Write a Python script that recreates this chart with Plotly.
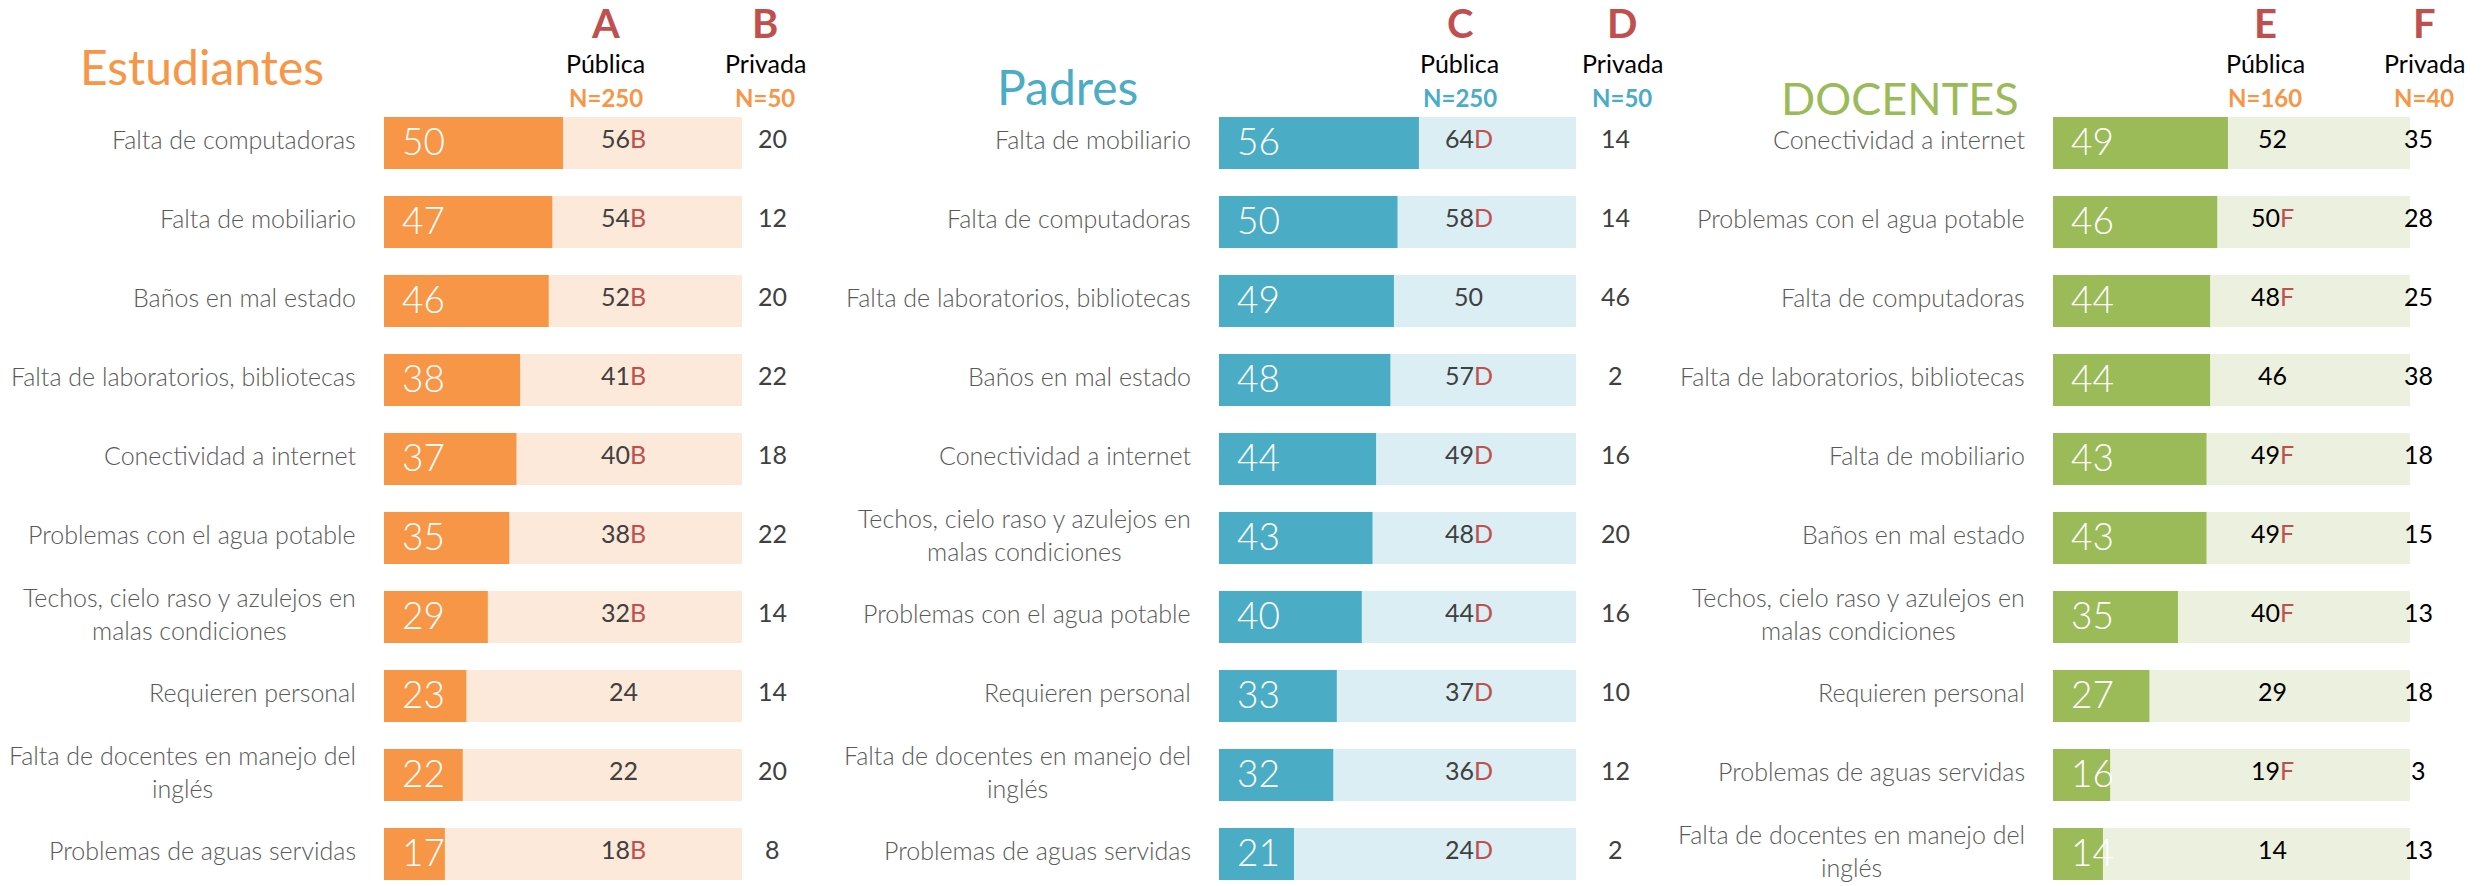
import plotly.graph_objects as go

W, H = 2483, 886

# ---------------- DATA ----------------
est_categories = ["Falta de computadoras", "Falta de mobiliario", "Baños en mal estado",
                  "Falta de laboratorios, bibliotecas", "Conectividad a internet",
                  "Problemas con el agua potable",
                  "Techos, cielo raso y azulejos en<br>malas condiciones",
                  "Requieren personal", "Falta de docentes en manejo del<br>inglés",
                  "Problemas de aguas servidas"]
est_total = [50, 47, 46, 38, 37, 35, 29, 23, 22, 17]
est_publica = [56, 54, 52, 41, 40, 38, 32, 24, 22, 18]
est_sig = ["B", "B", "B", "B", "B", "B", "B", "", "", "B"]
est_privada = [20, 12, 20, 22, 18, 22, 14, 14, 20, 8]

pad_categories = ["Falta de mobiliario", "Falta de computadoras",
                  "Falta de laboratorios, bibliotecas", "Baños en mal estado",
                  "Conectividad a internet",
                  "Techos, cielo raso y azulejos en<br>malas condiciones",
                  "Problemas con el agua potable", "Requieren personal",
                  "Falta de docentes en manejo del<br>inglés", "Problemas de aguas servidas"]
pad_total = [56, 50, 49, 48, 44, 43, 40, 33, 32, 21]
pad_publica = [64, 58, 50, 57, 49, 48, 44, 37, 36, 24]
pad_sig = ["D", "D", "", "D", "D", "D", "D", "D", "D", "D"]
pad_privada = [14, 14, 46, 2, 16, 20, 16, 10, 12, 2]

doc_categories = ["Conectividad a internet", "Problemas con el agua potable",
                  "Falta de computadoras", "Falta de laboratorios, bibliotecas",
                  "Falta de mobiliario", "Baños en mal estado",
                  "Techos, cielo raso y azulejos en<br>malas condiciones",
                  "Requieren personal", "Problemas de aguas servidas",
                  "Falta de docentes en manejo del<br>inglés"]
doc_total = [49, 46, 44, 44, 43, 43, 35, 27, 16, 14]
doc_publica = [52, 50, 48, 46, 49, 49, 40, 29, 19, 14]
doc_sig = ["", "F", "F", "", "F", "F", "F", "", "F", ""]
doc_privada = [35, 28, 25, 38, 18, 15, 13, 18, 3, 13]

titles = ["Estudiantes", "Padres", "DOCENTES"]
group_letters = [("A", "B"), ("C", "D"), ("E", "F")]
group_n = [("N=250", "N=50"), ("N=250", "N=50"), ("N=160", "N=40")]
SCALE_MAX = 100  # full-scale background bar (percent)

# ---------------- STYLE ----------------
RED = "#C0504D"
FONT = "Lato, Roboto, sans-serif"
FONT_LIGHT = "Lato Light, Lato, sans-serif"
panels = [
    dict(cats=est_categories, tot=est_total, pub=est_publica, sig=est_sig, priv=est_privada,
         start=384, ppu=3.58, rmax=120, label_right=358, pubx=67, privx=108.5, hpub=62, hpriv=106.5,
         color="#F79646", light="#FDE9D9", ncolor="#F79646", valcolor="#404040",
         title_x=78, title_y=66, title_size=48, title_color="#F79646"),
    dict(cats=pad_categories, tot=pad_total, pub=pad_publica, sig=pad_sig, priv=pad_privada,
         start=1219, ppu=3.57, rmax=120, label_right=1193, pubx=70, privx=111, hpub=67.5, hpriv=113,
         color="#4BACC6", light="#DAEEF3", ncolor="#4BACC6", valcolor="#404040",
         title_x=995, title_y=86.5, title_size=48, title_color="#4BACC6"),
    dict(cats=doc_categories, tot=doc_total, pub=doc_publica, sig=doc_sig, priv=doc_privada,
         start=2053, ppu=3.57, rmax=120, label_right=2027, pubx=61.6, privx=102.5, hpub=59.5, hpriv=104,
         color="#9BBB59", light="#EBF1DE", ncolor="#F79646", valcolor="#000000",
         title_x=1779, title_y=98, title_size=45, title_color="#9BBB59"),
]

ROW0, PITCH, BARH = 143.0, 79.0, 52.0
y_top = (0 - ROW0) / PITCH
y_bot = (H - ROW0) / PITCH


def py2y(py):
    return (py - ROW0) / PITCH


fig = go.Figure()
annotations = []
layout_axes = {}

for k, p in enumerate(panels):
    xname = "x" if k == 0 else f"x{k+1}"
    axkey = "xaxis" if k == 0 else f"xaxis{k+1}"
    n = len(p["cats"])
    rows = list(range(n))
    d0 = p["start"] / W
    d1 = min(1.0, (p["start"] + p["rmax"] * p["ppu"]) / W)
    rmax = (d1 * W - p["start"]) / p["ppu"]
    layout_axes[axkey] = dict(domain=[d0, d1], range=[0, rmax], visible=False,
                              fixedrange=True, anchor="y")
    fig.add_trace(go.Bar(y=rows, x=[SCALE_MAX] * n, orientation="h", width=BARH / PITCH,
                         marker=dict(color=p["light"], line=dict(width=0)),
                         xaxis=xname, yaxis="y", hoverinfo="skip", showlegend=False))
    fig.add_trace(go.Bar(y=rows, x=p["tot"], orientation="h", width=BARH / PITCH,
                         marker=dict(color=p["color"], line=dict(width=0)),
                         xaxis=xname, yaxis="y", hoverinfo="skip", showlegend=False))
    for i in rows:
        annotations.append(dict(x=0, y=i, xref=xname, yref="y", text=str(p["tot"][i]),
                                xanchor="left", yanchor="middle", xshift=16, yshift=3,
                                showarrow=False, font=dict(family=FONT_LIGHT, size=37, color="white")))
        sig = p["sig"][i]
        txt = str(p["pub"][i]) + (f"<span style='color:{RED}'>{sig}</span>" if sig else "")
        annotations.append(dict(x=p["pubx"], y=i, xref=xname, yref="y", text=txt,
                                xanchor="center", yanchor="middle", yshift=5, showarrow=False,
                                font=dict(family=FONT, size=25, color=p["valcolor"])))
        annotations.append(dict(x=p["privx"], y=i, xref=xname, yref="y", text=str(p["priv"][i]),
                                xanchor="center", yanchor="middle", yshift=5, showarrow=False,
                                font=dict(family=FONT, size=25, color=p["valcolor"])))
        annotations.append(dict(x=p["label_right"] / W, y=i, xref="paper", yref="y",
                                text=p["cats"][i], xanchor="right", yanchor="middle",
                                align="center", yshift=4, showarrow=False,
                                font=dict(family=FONT_LIGHT, size=25, color="#595959")))
    # headers
    la, lb = group_letters[k]
    na, nb = group_n[k]
    for hx, letter, word, nn in [(p["hpub"], la, "Pública", na), (p["hpriv"], lb, "Privada", nb)]:
        annotations.append(dict(x=hx, y=py2y(22.5), xref=xname, yref="y", text=f"<b>{letter}</b>",
                                xanchor="center", yanchor="middle", showarrow=False,
                                font=dict(family=FONT, size=40, color=RED)))
        annotations.append(dict(x=hx, y=py2y(63), xref=xname, yref="y", text=word,
                                xanchor="center", yanchor="middle", showarrow=False,
                                font=dict(family=FONT, size=25, color="#000000")))
        annotations.append(dict(x=hx, y=py2y(97.5), xref=xname, yref="y", text=f"<b>{nn}</b>",
                                xanchor="center", yanchor="middle", showarrow=False,
                                font=dict(family=FONT, size=24, color=p["ncolor"])))
    annotations.append(dict(x=p["title_x"] / W, y=py2y(p["title_y"]), xref="paper", yref="y",
                            text=titles[k], xanchor="left", yanchor="middle", showarrow=False,
                            font=dict(family=FONT, size=p["title_size"], color=p["title_color"])))

fig.update_layout(
    width=W, height=H,
    margin=dict(l=0, r=0, t=0, b=0),
    paper_bgcolor="white", plot_bgcolor="white",
    barmode="overlay",
    yaxis=dict(domain=[0, 1], range=[y_bot, y_top], visible=False, fixedrange=True),
    annotations=annotations,
    showlegend=False,
    **layout_axes,
)

fig.write_html("out.html", config={"displayModeBar": False},
               post_script="document.body.style.margin='0px';")
